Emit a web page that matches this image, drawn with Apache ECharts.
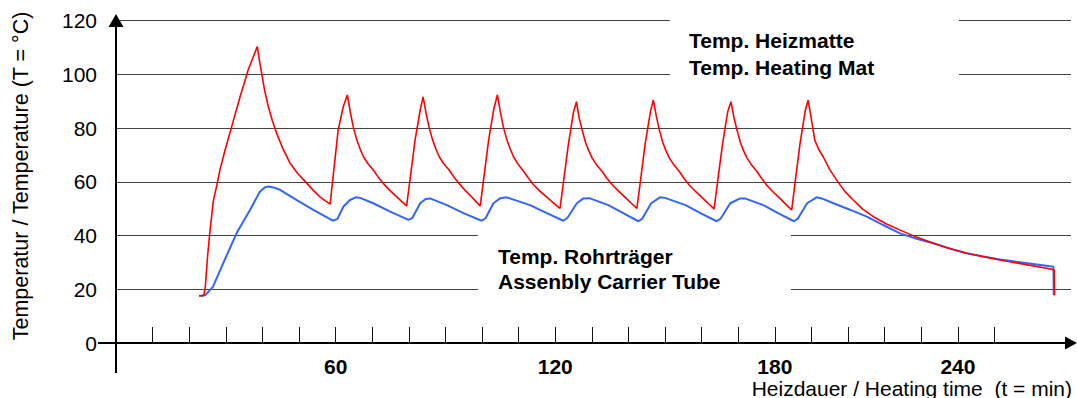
<!DOCTYPE html>
<html>
<head>
<meta charset="utf-8">
<script src="https://cdn.jsdelivr.net/npm/echarts@6/dist/echarts.min.js"></script>
<style>
  html, body { margin: 0; padding: 0; background: #fff; }
  #chart { width: 1077px; height: 398px; }
</style>
</head>
<body>
<div id="chart"></div>
<script>
// Heizmatte (red)
const matTime = [22.7, 24.0, 24.4, 25.0, 25.7, 26.6, 27.6, 28.4, 29.8, 31.6, 33.9, 36.1, 38.6,
  39.2, 39.8, 40.6, 41.6, 42.7, 43.9, 45.6, 47.5, 49.7, 52.1, 53.9, 55.7, 57.1, 58.5,
  59.4, 60.7, 62.1, 63.2, 64.0, 64.8, 65.8, 66.7, 67.6, 68.9, 70.3, 71.6, 73.0, 74.8, 76.7, 78.1, 79.4,
  80.3, 81.7, 83.1, 83.9, 84.7, 85.5, 86.5, 87.4, 88.3, 89.6, 91.0, 92.3, 93.7, 95.3, 97.0, 98.3, 99.5,
  100.4, 101.8, 103.2, 104.2, 105.0, 105.8, 106.8, 107.7, 108.6, 109.9, 111.3, 112.6, 114.0, 115.8, 117.7, 119.5, 121.3,
  122.2, 123.6, 125.0, 125.8, 126.5, 127.3, 128.3, 129.2, 130.1, 131.4, 132.8, 134.1, 135.5, 137.3, 139.1, 140.7, 142.3,
  143.2, 144.6, 146.0, 146.8, 147.6, 148.4, 149.4, 150.3, 151.2, 152.5, 153.9, 155.2, 156.6, 158.4, 160.2, 161.8, 163.4,
  164.3, 165.7, 167.1, 168.0, 168.8, 169.6, 170.6, 171.5, 172.4, 173.7, 175.1, 176.4, 177.8, 179.6, 181.4, 183.0, 184.6,
  185.5, 186.9, 188.3, 189.1, 190.0, 190.9, 192.0, 193.2, 195.0, 196.9, 199.0, 201.4, 204.0, 206.9, 210.5, 214.2,
  218.7, 223.3, 227.8, 232.4, 237.0, 241.5, 246.0, 250.6, 253.5, 256.3, 256.4];
const matTemp = [17.6, 17.6, 21, 32, 42, 53, 59, 64.4, 71.8, 80.5, 91.6, 101.6, 110.3,
  105, 100.3, 94, 88, 82.8, 78, 72.3, 67, 63, 59.5, 56.8, 54.4, 53, 51.7,
  63, 79.3, 88, 92.3, 86, 80.5, 75.5, 72.2, 69.3, 66.6, 64.4, 61.8, 59.4, 56.8, 54.4, 52.6, 51,
  60.6, 75.5, 86.7, 91.6, 85.5, 80.5, 75.5, 72.2, 69.3, 66.6, 64.4, 61.8, 59.4, 56.9, 54.6, 52.7, 51,
  60.6, 75.5, 87, 92.3, 86, 80.5, 75.5, 72.2, 69.3, 66.4, 64, 61.5, 59, 56.5, 54.3, 52.1, 50.1,
  59.5, 74, 86, 89.8, 84, 79.5, 74.5, 71.4, 68.8, 66.1, 63.8, 61.3, 59, 56.5, 54.2, 52.1, 50.1,
  59.5, 74.5, 86, 90.4, 84.5, 79.5, 74.5, 71.4, 68.8, 66.1, 63.8, 61.2, 58.8, 56.3, 54, 51.9, 49.9,
  59.5, 74, 86, 89.8, 84, 79.5, 74.5, 71.4, 68.8, 66.1, 63.8, 61.2, 58.7, 56.1, 53.8, 51.6, 49.5,
  59.5, 74.5, 86.5, 90.4, 83, 75.5, 72, 69.3, 64.5, 60.6, 56.6, 53.2, 49.8, 47, 44.3, 42,
  39.4, 37.1, 35.1, 33.4, 32.1, 30.9, 29.8, 28.7, 28, 27.2, 17.8];

// Rohrträger (blue)
const tubeTime = [22.7, 24.5, 26.5, 29.3, 33.0, 36.6, 39.3, 40.6, 41.6, 43.0, 44.8, 49.4, 53.9, 57.5, 59.2,
  60.5, 62.1, 63.9, 65.5, 66.7, 70.3, 74.9, 79.9,
  81.0, 83.1, 84.6, 85.8, 90.4, 94.9, 99.9,
  101.0, 103.1, 105.0, 106.7, 113.1, 117.7, 122.2,
  123.3, 125.9, 127.7, 129.3, 134.5, 138.7, 142.7,
  143.8, 146.2, 148.6, 150.0, 155.6, 159.8, 164.1,
  165.2, 167.8, 170.5, 171.8, 177.0, 181.0, 185.2,
  186.3, 188.8, 191.4, 192.8, 196.0, 200.5, 205.1, 209.6, 214.2, 218.7, 223.3, 227.8, 232.4, 237.0, 241.5, 246.0, 250.6, 256.1, 256.2];
const tubeTemp = [17.5, 17.9, 21, 29.7, 41, 49.5, 56.3, 57.9, 58.2, 57.9, 57, 53.2, 49.5, 46.8, 45.5,
  46.2, 50.7, 53.2, 54.2, 54.0, 52, 48.9, 45.8,
  46.6, 52, 53.6, 53.8, 51.3, 48.3, 45.5,
  46.5, 52, 53.9, 54.2, 51.3, 48.3, 45.5,
  46.5, 52, 53.8, 53.9, 51.3, 48.2, 45.3,
  46.3, 52, 54.2, 54.0, 51.3, 48.2, 45.3,
  46.3, 52, 53.8, 53.8, 51.2, 48.2, 45.3,
  46.3, 52, 54.2, 53.8, 52, 49.6, 47, 43.9, 40.8, 38.8, 37.1, 35.2, 33.4, 32.2, 31.1, 30.2, 29.4, 28.4, 17.8];

const xTickValues = [10, 20, 30, 40, 50, 60, 70, 80, 90, 100, 110, 120, 130, 140, 150, 160, 170, 180, 190, 200, 210, 220, 230, 240];
const xLabelValues = [60, 120, 180, 230];
const xLabelTexts = ['60', '120', '180', '240'];

const font = "'Liberation Sans', Arial, sans-serif";
const zip = (a, b) => a.map((t, i) => [t, b[i]]);

const chart = echarts.init(document.getElementById('chart'), null, { renderer: 'svg' });
chart.setOption({
  animation: false,
  textStyle: { fontFamily: font },
  grid: { left: 116, right: 6, top: 20.5, bottom: 55, outerBoundsMode: 'none' },
  xAxis: {
    type: 'value',
    min: 0,
    max: 260.9,
    axisLine: {
      lineStyle: { color: '#000', width: 2 },
      symbol: ['none', 'triangle'],
      symbolSize: [13, 12]
    },
    axisTick: {
      show: true,
      inside: true,
      length: 16,
      customValues: xTickValues,
      lineStyle: { color: '#111', width: 1 }
    },
    axisLabel: {
      customValues: xLabelValues,
      margin: 13,
      fontSize: 21,
      fontWeight: 'bold',
      color: '#000',
      fontFamily: font,
      formatter: v => {
        const i = xLabelValues.indexOf(v);
        return i >= 0 ? xLabelTexts[i] : '';
      }
    },
    splitLine: { show: false }
  },
  yAxis: {
    type: 'value',
    min: 0,
    max: 120,
    interval: 20,
    axisLine: {
      show: true,
      lineStyle: { color: '#000', width: 2 },
      symbol: ['none', 'triangle'],
      symbolSize: [15, 13]
    },
    axisTick: { show: false },
    axisLabel: { margin: 19, fontSize: 21, color: '#000', fontFamily: font },
    splitLine: { show: true, lineStyle: { color: '#444', width: 1 } }
  },
  graphic: [
    // axis extensions past the origin
    { type: 'line', z: 1, shape: { x1: 116, y1: 343, x2: 116, y2: 373 }, style: { stroke: '#000', lineWidth: 2 } },
    { type: 'line', z: 1, shape: { x1: 98, y1: 343, x2: 116, y2: 343 }, style: { stroke: '#000', lineWidth: 2 } },
    // label boxes
    { type: 'rect', z: 1, shape: { x: 670, y: 8, width: 289, height: 77 }, style: { fill: '#fff' } },
    { type: 'rect', z: 1, shape: { x: 478, y: 227, width: 313, height: 72 }, style: { fill: '#fff' } },
    { type: 'text', z: 5, style: { text: 'Temp. Heizmatte', x: 689, y: 40, verticalAlign: 'middle', font: 'bold 21px ' + font, fill: '#000' } },
    { type: 'text', z: 5, style: { text: 'Temp. Heating Mat', x: 689, y: 67, verticalAlign: 'middle', font: 'bold 21px ' + font, fill: '#000' } },
    { type: 'text', z: 5, style: { text: 'Temp. Rohrträger', x: 498, y: 256, verticalAlign: 'middle', font: 'bold 21px ' + font, fill: '#000' } },
    { type: 'text', z: 5, style: { text: 'Assenbly Carrier Tube', x: 498, y: 281, verticalAlign: 'middle', font: 'bold 21px ' + font, fill: '#000' } },
    // axis titles
    { type: 'text', z: 5, style: { text: 'Heizdauer / Heating time  (t = min)', x: 1072, y: 388, align: 'right', verticalAlign: 'middle', font: '21px ' + font, fill: '#000' } },
    { type: 'text', z: 5, x: 21, y: 176, rotation: Math.PI / 2,
      style: { text: 'Temperatur / Temperature (T = °C)', x: 0, y: 0, align: 'center', verticalAlign: 'middle', font: '21.5px ' + font, fill: '#000' } }
  ],
  series: [
    {
      name: 'Temp. Rohrträger',
      type: 'line',
      showSymbol: false,
      z: 2,
      lineStyle: { color: '#3366ff', width: 2 },
      data: zip(tubeTime, tubeTemp)
    },
    {
      name: 'Temp. Heizmatte',
      type: 'line',
      showSymbol: false,
      z: 3,
      lineStyle: { color: '#ff0000', width: 1.6 },
      data: zip(matTime, matTemp)
    }
  ]
});
</script>
</body>
</html>
